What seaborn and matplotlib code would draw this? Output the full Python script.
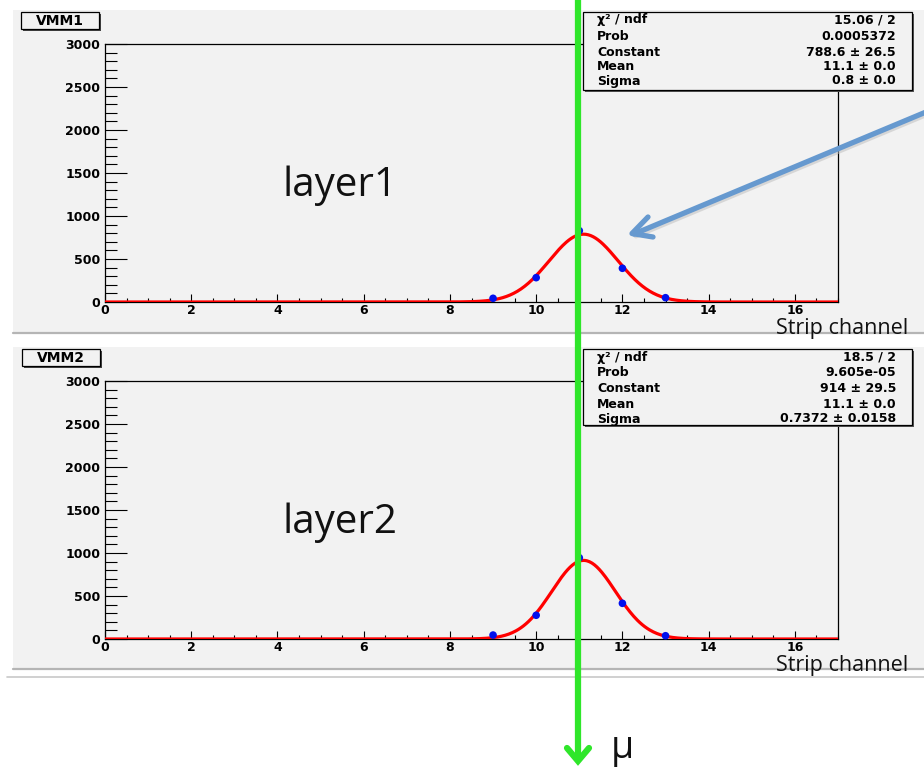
import numpy as np
import pandas as pd
import matplotlib
matplotlib.use("Agg")
import matplotlib.pyplot as plt
import seaborn as sns
from matplotlib.patches import Rectangle
from matplotlib.ticker import MultipleLocator

# Strip hit counts per VMM and the gaussian fit results
strip = [9, 10, 11, 12, 13]
counts_vmm1 = [43, 283, 829, 392, 50]
counts_vmm2 = [46, 276, 945, 415, 38]

panel_titles = ["VMM1", "VMM2"]
layer_labels = ["layer1", "layer2"]
fit_constant = [788.6, 914.0]
fit_mean = [11.1, 11.1]
fit_sigma = [0.8, 0.7372]
stats_names = ["\u03c7\u00b2 / ndf", "Prob", "Constant", "Mean", "Sigma"]
stats_values = [
    ["15.06 / 2", "0.0005372", "788.6 \u00b1 26.5", "11.1 \u00b1 0.0", "0.8 \u00b1 0.0"],
    ["18.5 / 2", "9.605e-05", "914 \u00b1 29.5", "11.1 \u00b1 0.0", "0.7372 \u00b1 0.0158"],
]
x_label = "Strip channel"
x_range = (0, 17)
y_range = (0, 3000)

sns.set_theme(style="ticks")
plt.rcParams["font.family"] = ["DejaVu Sans"]
plt.rcParams["text.color"] = "black"

W, H = 924, 770
fig = plt.figure(figsize=(W / 100, H / 100), dpi=100, facecolor="white")


def frac(x0, y0, x1, y1):
    return [x0 / W, 1 - y1 / H, (x1 - x0) / W, (y1 - y0) / H]


# background layer in pixel coordinates
bg = fig.add_axes([0, 0, 1, 1], zorder=0)
bg.set_xlim(0, W)
bg.set_ylim(H, 0)
bg.axis("off")
panel_bg = "#f2f2f2"
for (top, bot) in [(10, 332), (347, 668)]:
    bg.add_patch(Rectangle((13, top), W - 13, bot - top, facecolor=panel_bg, edgecolor="none"))
bg.plot([13, W], [333, 333], color="#b5b5b5", lw=1.6)
bg.plot([13, W], [669, 669], color="#b5b5b5", lw=1.6)
bg.plot([7, W], [677, 677], color="#c8c8c8", lw=1.2)

axes_boxes = [(105, 44, 838, 302), (105, 381, 838, 639)]
all_counts = [counts_vmm1, counts_vmm2]

for i, box in enumerate(axes_boxes):
    ax = fig.add_axes(frac(*box), zorder=1)
    ax.set_facecolor("none")
    xs = np.linspace(x_range[0], x_range[1], 600)
    fit = pd.DataFrame({
        "strip": xs,
        "fit": fit_constant[i] * np.exp(-0.5 * ((xs - fit_mean[i]) / fit_sigma[i]) ** 2),
    })
    sns.lineplot(data=fit, x="strip", y="fit", ax=ax, color="red", lw=2.3, zorder=3)
    pts = pd.DataFrame({"strip": strip, "count": all_counts[i]})
    sns.scatterplot(data=pts, x="strip", y="count", ax=ax, color="#0010ee",
                    s=30, edgecolor="none", zorder=4, clip_on=False)
    ax.set_xlim(*x_range)
    ax.set_ylim(*y_range)
    ax.set_xlabel("")
    ax.set_ylabel("")
    ax.xaxis.set_major_locator(MultipleLocator(2))
    ax.xaxis.set_minor_locator(MultipleLocator(0.5))
    ax.yaxis.set_major_locator(MultipleLocator(500))
    ax.yaxis.set_minor_locator(MultipleLocator(100))
    ax.set_xticks(np.arange(0, 17, 2))
    ax.tick_params(axis="y", which="major", direction="in", length=15.5, width=0.8,
                   color="black", pad=3.5, labelsize=9, labelcolor="black")
    ax.tick_params(axis="y", which="minor", direction="in", length=8.5, width=0.8, color="black")
    ax.tick_params(axis="x", which="major", direction="in", length=5.5, width=0.8,
                   color="black", pad=1.2, labelsize=9, labelcolor="black")
    ax.tick_params(axis="x", which="minor", direction="in", length=2.9, width=0.8, color="black")
    for lab in ax.get_xticklabels() + ax.get_yticklabels():
        lab.set_fontweight("bold")
    for side in ["left", "top", "right", "bottom"]:
        ax.spines[side].set_visible(True)
        ax.spines[side].set_color("black")
        ax.spines[side].set_linewidth(0.9)
    ax.text(0.32, 0.45, layer_labels[i], transform=ax.transAxes, ha="center", va="center",
            fontsize=29, family="Open Sans", color="#111111")

# overlay layer for boxes, labels and arrows
ov = fig.add_axes([0, 0, 1, 1], zorder=5)
ov.set_xlim(0, W)
ov.set_ylim(H, 0)
ov.axis("off")
ov.patch.set_alpha(0)

stat_boxes = [(583, 12, 912, 90), (583, 349, 912, 425)]
stat_rows = [[20, 36, 52, 67, 81], [357, 373, 389, 404, 419]]
for i, (x0, y0, x1, y1) in enumerate(stat_boxes):
    ov.add_patch(Rectangle((x0 + 2, y0 + 2), x1 - x0, y1 - y0, facecolor="#555555",
                           edgecolor="none"))
    ov.add_patch(Rectangle((x0, y0), x1 - x0, y1 - y0, facecolor=panel_bg,
                           edgecolor="black", lw=0.9))
    for name, val, yy in zip(stats_names, stats_values[i], stat_rows[i]):
        ov.text(597, yy, name, ha="left", va="center", fontsize=9, fontweight="bold")
        ov.text(896, yy, val, ha="right", va="center", fontsize=9, fontweight="bold")

title_boxes = [(21, 12, 99, 29), (22, 349, 100, 366)]
for title, (x0, y0, x1, y1) in zip(panel_titles, title_boxes):
    ov.add_patch(Rectangle((x0 + 1.5, y0 + 1.5), x1 - x0, y1 - y0, facecolor="#444444",
                           edgecolor="none"))
    ov.add_patch(Rectangle((x0, y0), x1 - x0, y1 - y0, facecolor=panel_bg,
                           edgecolor="black", lw=0.9))
    ov.text((x0 + x1) / 2, (y0 + y1) / 2 + 0.5, title, ha="center", va="center",
            fontsize=10, fontweight="bold")

for yy in [318, 655]:
    ov.text(776, yy, x_label, ha="left", va="top", fontsize=15.5, family="Open Sans",
            color="#111111")

# muon track
green = "#2fe62a"
ov.plot([578, 578], [0, 760], color=green, lw=4.5, solid_capstyle="butt")
ov.plot([567, 578, 589], [748, 761, 748], color=green, lw=4.5,
        solid_capstyle="round", solid_joinstyle="miter")
ov.text(611, 748, "\u03bc", ha="left", va="center", fontsize=27, family="Open Sans",
        color="#111111")

# pointer to the fitted peak
blue = "#6699cf"
ov.plot([926, 634], [112, 234], color="#bbbbbb", lw=3.5, alpha=0.5,
        transform=ov.transData + matplotlib.transforms.ScaledTranslation(0.02, -0.02, fig.dpi_scale_trans))
ov.plot([926, 634], [112, 234], color=blue, lw=3.8, solid_capstyle="round")
ov.plot([648, 632, 653], [217, 233.5, 237], color=blue, lw=3.8,
        solid_capstyle="round", solid_joinstyle="round")

fig.savefig("out.png", dpi=100, facecolor="white")
